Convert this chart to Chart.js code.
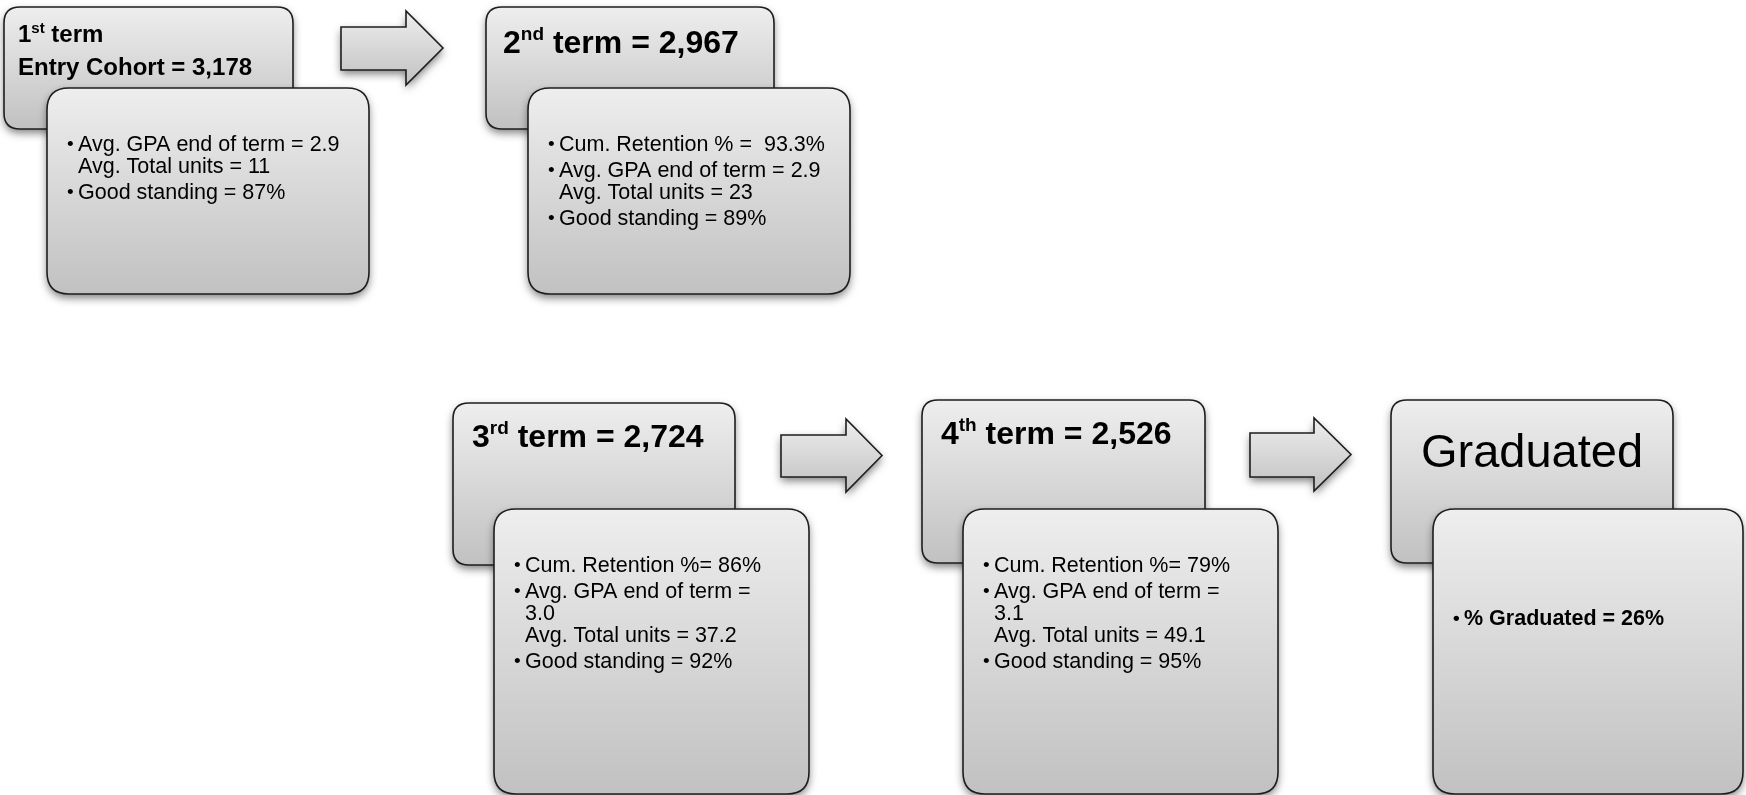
<!DOCTYPE html>
<html>
<head>
<meta charset="utf-8">
<script src="https://cdn.jsdelivr.net/npm/chart.js@4/dist/chart.umd.min.js"></script>
<style>
  html, body { margin: 0; padding: 0; background: #fff; }
  #wrap { width: 1746px; height: 795px; }
</style>
</head>
<body>
<div id="wrap"><canvas id="myChart" width="1746" height="795"></canvas></div>
<script>
// term data
var ordinal = ['1', '2', '3', '4'];
var ordinalSuffix = ['st', 'nd', 'rd', 'th'];
var termCount = [3178, 2967, 2724, 2526];
var cumRetention = [null, '93.3', '86', '79'];
var avgGpa = ['2.9', '2.9', '3.0', '3.1'];
var avgUnits = ['11', '23', '37.2', '49.1'];
var goodStanding = [87, 89, 92, 95];
var graduatedPct = 26;

// layout (page units, 1746 x 795)
var backBoxes = [[4, 7, 293, 129], [486, 7, 774, 129], [453, 403, 735, 565], [922, 400, 1205, 563], [1391, 400, 1673, 563]];
var frontBoxes = [[47, 88, 369, 294], [528, 88, 850, 294], [494, 509, 809, 794], [963, 509, 1278, 794], [1433, 509, 1743, 794]];
var titlePos = [[18, 42], [503, 53], [472, 447], [941, 444], [1532, 467]];
var gpaWraps = [false, false, true, true];
var arrows = [[341, 11, 443, 85, 406, 27, 70], [781, 419, 882, 492, 846, 435, 477], [1250, 418, 1351, 491, 1314, 433, 477]];

var FONT = '"Liberation Sans", Arial, sans-serif';

function fmt(n) { return n.toLocaleString('en-US'); }

// each bullet is a list of lines
function bulletLines(i) {
    var out = [];
    if (cumRetention[i] !== null) {
        out.push([(i === 1 ? 'Cum. Retention % =  ' : 'Cum. Retention %= ') + cumRetention[i] + '%']);
    }
    if (gpaWraps[i]) {
        out.push(['Avg. GPA end of term =', avgGpa[i], 'Avg. Total units = ' + avgUnits[i]]);
    } else {
        out.push(['Avg. GPA end of term = ' + avgGpa[i], 'Avg. Total units = ' + avgUnits[i]]);
    }
    out.push(['Good standing = ' + goodStanding[i] + '%']);
    return out;
}

function boxPath(ctx, x, y, w, h, r) {
    ctx.beginPath();
    ctx.moveTo(x + r, y);
    ctx.lineTo(x + w - r, y);
    ctx.quadraticCurveTo(x + w, y, x + w, y + r);
    ctx.lineTo(x + w, y + h - r);
    ctx.quadraticCurveTo(x + w, y + h, x + w - r, y + h);
    ctx.lineTo(x + r, y + h);
    ctx.quadraticCurveTo(x, y + h, x, y + h - r);
    ctx.lineTo(x, y + r);
    ctx.quadraticCurveTo(x, y, x + r, y);
    ctx.closePath();
}

function fillShape(ctx, y0, y1) {
    var g = ctx.createLinearGradient(0, y0, 0, y1);
    g.addColorStop(0, '#eeeeee');
    g.addColorStop(1, '#c1c1c1');
    ctx.save();
    ctx.shadowColor = 'rgba(0,0,0,0.5)';
    ctx.shadowBlur = 8;
    ctx.shadowOffsetY = 4;
    ctx.fillStyle = g;
    ctx.fill();
    ctx.restore();
    ctx.lineWidth = 1.6;
    ctx.strokeStyle = '#1e1e1e';
    ctx.stroke();
}

function drawRuns(ctx, x, y, runs) {
    runs.forEach(function (r) {
        ctx.font = 'bold ' + r.size + 'px ' + FONT;
        ctx.fillText(r.t, x, y - (r.rise || 0));
        x += ctx.measureText(r.t).width;
    });
}

var diagramPlugin = {
    id: 'diagram',
    afterDraw: function (chart) {
        var ctx = chart.ctx;
        var sx = chart.scales.x, sy = chart.scales.y;
        var X = function (v) { return sx.getPixelForValue(v); };
        var Y = function (v) { return sy.getPixelForValue(v); };

        ctx.save();
        ctx.textBaseline = 'alphabetic';

        // arrows
        arrows.forEach(function (a) {
            var x0 = X(a[0]), y0 = Y(a[1]), x1 = X(a[2]), y1 = Y(a[3]), hb = X(a[4]), s0 = Y(a[5]), s1 = Y(a[6]);
            var ym = (y0 + y1) / 2;
            ctx.beginPath();
            ctx.moveTo(x0, s0);
            ctx.lineTo(hb, s0);
            ctx.lineTo(hb, y0);
            ctx.lineTo(x1, ym);
            ctx.lineTo(hb, y1);
            ctx.lineTo(hb, s1);
            ctx.lineTo(x0, s1);
            ctx.closePath();
            fillShape(ctx, y0, y1);
        });

        for (var i = 0; i < backBoxes.length; i++) {
            var b = backBoxes[i], f = frontBoxes[i];
            boxPath(ctx, X(b[0]), Y(b[1]), X(b[2]) - X(b[0]), Y(b[3]) - Y(b[1]), 16);
            fillShape(ctx, Y(b[1]), Y(b[3]));

            ctx.fillStyle = '#000';
            var tp = titlePos[i];
            if (i === 0) {
                drawRuns(ctx, X(tp[0]), Y(tp[1]), [
                    { t: ordinal[0], size: 24 },
                    { t: ordinalSuffix[0], size: 15, rise: 9 },
                    { t: ' term', size: 24 }
                ]);
                drawRuns(ctx, X(tp[0]), Y(tp[1] + 33), [{ t: 'Entry Cohort = ' + fmt(termCount[0]), size: 24 }]);
            } else if (i < 4) {
                drawRuns(ctx, X(tp[0]), Y(tp[1]), [
                    { t: ordinal[i], size: 32 },
                    { t: ordinalSuffix[i], size: 19, rise: 13 },
                    { t: ' term = ' + fmt(termCount[i]), size: 32 }
                ]);
            } else {
                ctx.font = '47px ' + FONT;
                ctx.textAlign = 'center';
                ctx.fillText('Graduated', X(tp[0]), Y(tp[1]));
                ctx.textAlign = 'left';
            }

            boxPath(ctx, X(f[0]), Y(f[1]), X(f[2]) - X(f[0]), Y(f[3]) - Y(f[1]), 22);
            fillShape(ctx, Y(f[1]), Y(f[3]));

            ctx.fillStyle = '#000';
            var bx = X(f[0] + 20), tx = X(f[0] + 31);
            if (i < 4) {
                var yy = Y(f[1] + 63);
                bulletLines(i).forEach(function (lines) {
                    ctx.font = '19px ' + FONT;
                    ctx.fillText('\u2022', bx, yy - 1);
                    ctx.font = '21.5px ' + FONT;
                    lines.forEach(function (ln, k) {
                        ctx.fillText(ln, tx, yy);
                        yy += (k < lines.length - 1) ? 22 : 26;
                    });
                });
            } else {
                var gy = Y(f[1] + 116);
                ctx.font = 'bold 19px ' + FONT;
                ctx.fillText('\u2022', bx, gy - 1);
                ctx.font = 'bold 21.5px ' + FONT;
                ctx.fillText('% Graduated = ' + graduatedPct + '%', tx, gy);
            }
        }
        ctx.restore();
    }
};

var ctx = document.getElementById('myChart').getContext('2d');

var config = {
    type: 'scatter',
    data: {
        datasets: [{
            data: [],
            pointRadius: 0
        }]
    },
    options: {
        responsive: false,
        animation: false,
        layout: { padding: 0 },
        plugins: {
            legend: { display: false },
            tooltip: { enabled: false }
        },
        scales: {
            x: { type: 'linear', min: 0, max: 1746, display: false },
            y: { type: 'linear', min: 0, max: 795, reverse: true, display: false }
        }
    },
    plugins: [diagramPlugin]
};

var myChart = new Chart(ctx, config);
</script>
</body>
</html>
